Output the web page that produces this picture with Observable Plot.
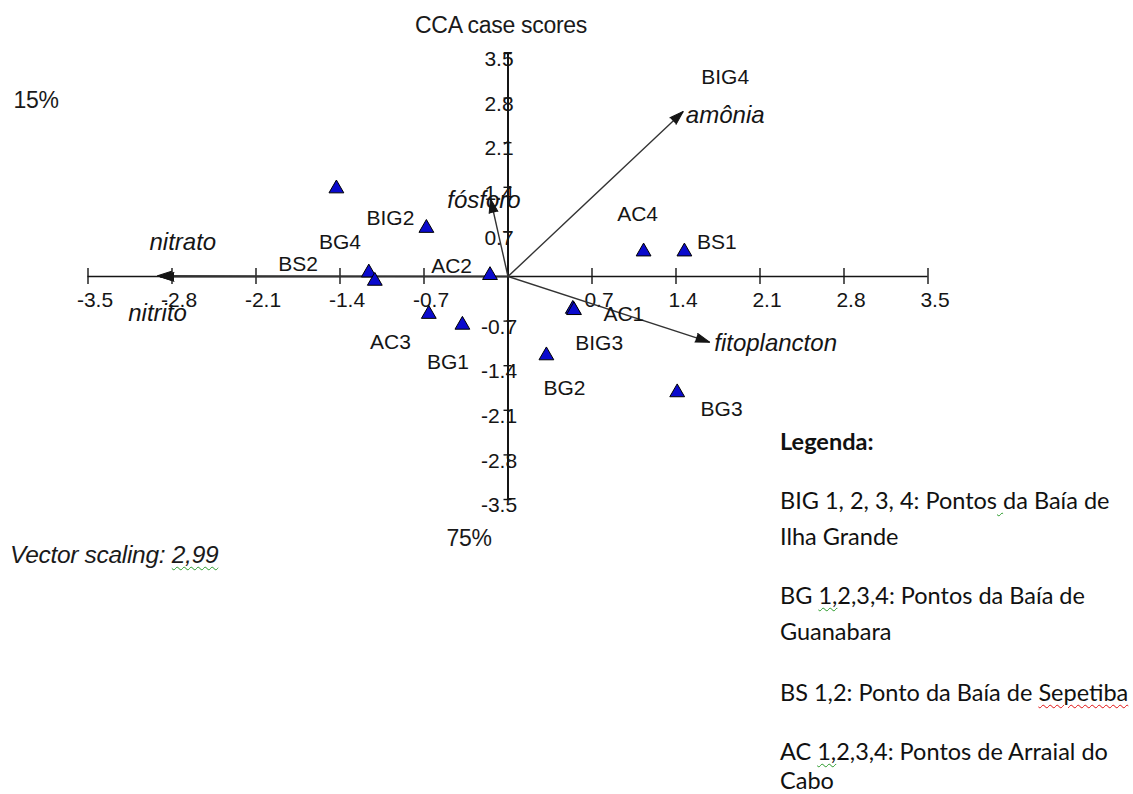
<!DOCTYPE html>
<html><head><meta charset="utf-8">
<script src="https://cdn.jsdelivr.net/npm/d3@7"></script>
<script src="https://cdn.jsdelivr.net/npm/@observablehq/plot@0.6"></script>
<style>
body{margin:0;background:#fff;}
#wrap{position:relative;width:1133px;height:794px;overflow:hidden;font-family:"Liberation Sans",Arial,sans-serif;color:#1a1a1a}
#wrap svg{position:absolute;left:0;top:0}
.ov{position:absolute;white-space:nowrap;transform:translate(-50%,-50%);font-size:23px;letter-spacing:-0.3px}
.lg{position:absolute;left:780px;white-space:nowrap;transform:translateY(-50%);font-family:Lato,"Noto Sans",sans-serif;font-size:23.5px;color:#111}
.red{text-decoration:underline wavy #e01010;text-decoration-thickness:1px;text-underline-offset:3px}
.grn{text-decoration:underline wavy #2a9a2a;text-decoration-thickness:1px;text-underline-offset:3px}
</style></head><body><div id="wrap"></div><script>
// site scores (CCA axis 1, axis 2)
const siteNames = ["BIG1","BIG2","BIG3","BG1","BG2","BG3","BG4","BS1","BS2","AC1","AC2","AC3","AC4"];
const siteAxis1 = [-1.43,-0.68,0.54,-0.38,0.32,1.41,-1.16,1.47,-1.11,0.55,-0.15,-0.66,1.13];
const siteAxis2 = [1.38,0.76,-0.51,-0.76,-1.24,-1.82,0.06,0.39,-0.07,-0.53,0.02,-0.59,0.39];
// where each site name is printed (axis units)
const labelNames = ["BIG2","BIG3","BIG4","BG1","BG2","BG3","BG4","BS1","BS2","AC1","AC2","AC3","AC4"];
const labelAxis1 = [-0.98,0.76,1.81,-0.50,0.47,1.78,-1.40,1.74,-1.75,0.965,-0.47,-0.98,1.08];
const labelAxis2 = [0.91,-1.05,3.12,-1.35,-1.76,-2.09,0.53,0.54,0.19,-0.60,0.16,-1.03,0.98];
// environmental vectors
const variableNames = ["nitrato","nitrito","fósforo","amônia","fitoplancton"];
const variableAxis1 = [-2.92,-2.90,-0.146,1.46,1.68];
const variableAxis2 = [0.012,-0.006,1.22,2.59,-1.03];
const variableLabelAxis1 = [-2.71,-2.92,-0.20,1.81,2.23];
const variableLabelAxis2 = [0.54,-0.58,1.19,2.53,-1.05];
// axis ticks
const tickValues = [-3.5,-2.8,-2.1,-1.4,-0.7,0.7,1.4,2.1,2.8,3.5];
const tickLabels = ["-3.5","-2.8","-2.1","-1.4","-0.7","0.7","1.4","2.1","2.8","3.5"];

const W = 1133, H = 794, ML = 87.5, MR = 205.5, MT = 53, MB = 295;
const kx = (W - ML - MR) / 7, ky = (H - MT - MB) / 7;

const sites = siteNames.map((n, i) => ({name: n, x: siteAxis1[i], y: siteAxis2[i]}));
const labels = labelNames.map((n, i) => ({name: n, x: labelAxis1[i], y: labelAxis2[i]}));
const vars = variableNames.map((n, i) => ({name: n, x: variableAxis1[i], y: variableAxis2[i], lx: variableLabelAxis1[i], ly: variableLabelAxis2[i]}));
const ticks = tickValues.map((v, i) => ({v, label: tickLabels[i]}));

const ink = "#151515";
const plot = Plot.plot({
  width: W, height: H,
  marginLeft: ML, marginRight: MR, marginTop: MT, marginBottom: MB,
  x: {domain: [-3.5, 3.5], axis: null},
  y: {domain: [-3.5, 3.5], axis: null},
  style: {fontFamily: "'Liberation Sans', Arial, sans-serif", fontSize: "21px", color: ink, background: "#fff"},
  marks: [
    Plot.ruleY([0], {x1: -3.5, x2: 3.5, stroke: ink, strokeWidth: 1.4}),
    Plot.ruleX([0], {y1: -3.5, y2: 3.5, stroke: ink, strokeWidth: 2}),
    Plot.ruleX(ticks, {x: "v", y1: 0, y2: 0, insetTop: -8, insetBottom: -8, stroke: ink, strokeWidth: 1.4}),
    Plot.ruleY(ticks, {y: "v", x1: 0, x2: 0, insetLeft: -4, insetRight: -4, stroke: ink, strokeWidth: 1.4}),
    Plot.text(ticks, {x: "v", y: 0, text: "label", dx: 7, dy: 24, fill: ink, fontSize: 21}),
    Plot.text(ticks, {x: 0, y: "v", text: "label", dx: -9, dy: 6, fill: ink, fontSize: 21}),
    Plot.link(vars, {x1: 0, y1: 0, x2: "x", y2: "y", stroke: "#333", strokeWidth: 1.4}),
    Plot.vector(vars, {x: "x", y: "y", anchor: "end", shape: "spike", length: 14, r: 4.5,
      rotate: d => Math.atan2(d.x * kx, d.y * ky) * 180 / Math.PI,
      fill: ink, fillOpacity: 1, stroke: ink, strokeWidth: 1}),
    Plot.dot(sites, {x: "x", y: "y", symbol: "triangle", r: 5.5, fill: "#0a0acd", stroke: "#000", strokeWidth: 1}),
    Plot.text(labels, {x: "x", y: "y", text: "name", fill: ink, fontSize: 21}),
    Plot.text(vars, {x: "lx", y: "ly", text: "name", fontStyle: "italic", fontSize: 24, fill: ink})
  ]
});
const wrap = document.getElementById("wrap");
wrap.appendChild(plot);

const overlays = [
  {t: "CCA case scores", x: 501, y: 25},
  {t: "15%", x: 36, y: 100},
  {t: "75%", x: 469, y: 538}
];
overlays.forEach(o => {
  const d = document.createElement("div");
  d.className = "ov"; d.textContent = o.t;
  d.style.left = o.x + "px"; d.style.top = o.y + "px";
  wrap.appendChild(d);
});
const vs = document.createElement("div");
vs.className = "ov";
vs.style.left = "10px"; vs.style.top = "555px"; vs.style.transform = "translateY(-50%)";
vs.style.fontStyle = "italic"; vs.style.fontSize = "24.5px";
vs.innerHTML = 'Vector scaling: <span class="grn">2,99</span>';
wrap.appendChild(vs);

const legendLines = [
  {h: '<b>Legenda:</b>', y: 441},
  {h: 'BIG 1, 2, 3, 4: Pontos<span class="grn"> </span>da Baía de', y: 500},
  {h: 'Ilha Grande', y: 536},
  {h: 'BG <span class="grn">1,</span>2,3,4: Pontos da Baía de', y: 595},
  {h: 'Guanabara', y: 631},
  {h: 'BS 1,2: Ponto da Baía de <span class="red">Sepetiba</span>', y: 692},
  {h: 'AC <span class="grn">1,</span>2,3,4: Pontos de Arraial do', y: 751},
  {h: 'Cabo', y: 780}
];
legendLines.forEach(l => {
  const d = document.createElement("div");
  d.className = "lg"; d.innerHTML = l.h; d.style.top = l.y + "px";
  wrap.appendChild(d);
});
</script></body></html>
